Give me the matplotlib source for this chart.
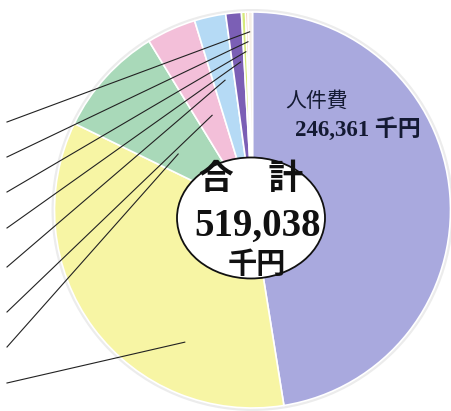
import matplotlib
matplotlib.use("Agg")
import matplotlib.pyplot as plt
from matplotlib.patches import Ellipse, Circle
import numpy as np

# ---- data (千円) ----
categories = ["人件費", "区分2", "区分3", "区分4", "区分5", "区分6", "区分7", "区分8", "区分9"]
values = [246361, 180260, 47000, 20900, 13260, 6630, 1730, 1010, 1887]
colors = ["#a9a9de", "#f7f5a4", "#a9d9b9", "#f3bfd9", "#b5daf5",
          "#7b5fb5", "#d6ea7c", "#f2b48e", "#f5efe6"]
total_label = "519,038"
main_label = "人件費"
main_value = "246,361 千円"

# leader anchors inside wedges: (fraction along clockwise sweep, radius fraction)
anchor_f = [None, 0.29, 0.34, 0.58, 0.55, 0.70, 0.67, 0.66, 0.30]
anchor_r = [None, 0.75, 0.47, 0.52, 0.67, 0.75, 0.80, 0.85, 0.90]
# label line left ends (pixels from top)
label_y_top = [None, 383, 347, 312, 267, 228, 192, 157, 122]

W, H = 451, 411
fig = plt.figure(figsize=(W / 100, H / 100), dpi=100)
ax = fig.add_axes([0, 0, 1, 1])

CX, CY, R = 252.5, H - 210, 198

ax.add_patch(Circle((CX, CY), R + 3, facecolor="#ececec", edgecolor="none", zorder=0))
wedges, _ = ax.pie(values, colors=colors, startangle=90, counterclock=False,
                   center=(CX, CY), radius=R,
                   wedgeprops=dict(edgecolor="white", linewidth=1.2))

for i, w in enumerate(wedges):
    if anchor_f[i] is None:
        continue
    ang = np.deg2rad(w.theta2 - anchor_f[i] * (w.theta2 - w.theta1))
    px = CX + anchor_r[i] * R * np.cos(ang)
    py = CY + anchor_r[i] * R * np.sin(ang)
    ax.plot([7, px], [H - label_y_top[i], py], color="#222222", lw=0.8, zorder=5)

ax.add_patch(Ellipse((251, H - 218), 148, 121, facecolor="white",
                     edgecolor="#111111", linewidth=1.3, zorder=6))

txt = "#141a33"
ax.text(251, H - 178, "合\u3000計", fontsize=25, fontweight="bold",
        family=["Noto Sans CJK JP"], color="#111111", ha="center", va="center", zorder=7)
ax.text(258, H - 226, total_label, fontsize=28, fontweight="bold",
        family=["Liberation Serif", "DejaVu Serif"], color="#111111",
        ha="center", va="center", zorder=7)
ax.text(257, H - 264, "千円", fontsize=21, fontweight="bold",
        family=["Noto Sans CJK JP"], color="#111111", ha="center", va="center", zorder=7)

ax.text(285, H - 101, main_label, fontsize=15,
        family=["Noto Sans CJK JP"], color=txt, ha="left", va="center", zorder=7)
ax.text(295, H - 129, main_value, fontsize=16.5, fontweight="bold",
        family=["Liberation Serif", "Noto Sans CJK JP"], color=txt,
        ha="left", va="center", zorder=7)

ax.set_xlim(0, W)
ax.set_ylim(0, H)
ax.set_aspect("equal")
ax.axis("off")
fig.savefig("out.png", dpi=100)
